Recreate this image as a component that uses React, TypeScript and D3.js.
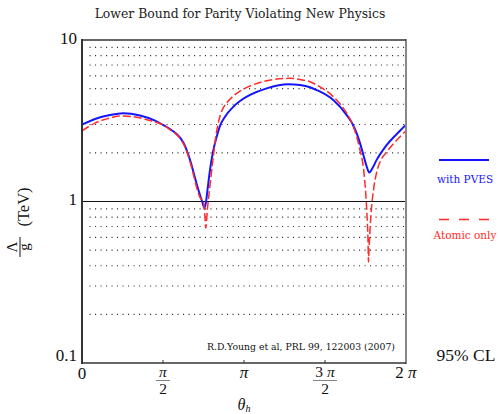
import React from "react";
import * as d3 from "d3";

// theta in units of pi, bound Lambda/g in TeV
const thetaBlue = [0, 0.0802, 0.1728, 0.2531, 0.358, 0.4506, 0.5, 0.5432, 0.5802, 0.6111, 0.6358, 0.6543, 0.6728, 0.6944, 0.713, 0.7284, 0.7407, 0.75, 0.7562, 0.7654, 0.7747, 0.7901, 0.8086, 0.8315, 0.8519, 0.8827, 0.934, 0.9753, 1.037, 1.14, 1.2716, 1.3457, 1.4074, 1.4488, 1.5512, 1.634, 1.6667, 1.6957, 1.716, 1.7364, 1.7562, 1.7735, 1.79, 1.819, 1.8815, 1.963, 2.0];
const lambdaBlue = [2.99, 3.24, 3.43, 3.52, 3.41, 3.17, 2.98, 2.81, 2.64, 2.44, 2.21, 1.97, 1.73, 1.44, 1.23, 1.097, 1.007, 0.938, 0.911, 0.993, 1.18, 1.57, 2.03, 2.52, 2.94, 3.35, 3.86, 4.19, 4.57, 5.02, 5.32, 5.26, 5.1, 4.9, 4.25, 3.43, 3.06, 2.64, 2.3, 1.95, 1.66, 1.51, 1.59, 1.81, 2.24, 2.74, 2.99];

const thetaRed = [0, 0.0802, 0.1728, 0.2346, 0.3272, 0.4198, 0.5, 0.5432, 0.5802, 0.6111, 0.6358, 0.6543, 0.6728, 0.6914, 0.7099, 0.7284, 0.7488, 0.758, 0.7636, 0.7747, 0.787, 0.7994, 0.8117, 0.8272, 0.8457, 0.8642, 0.8951, 0.934, 0.9753, 1.037, 1.14, 1.284, 1.3457, 1.4074, 1.4488, 1.5512, 1.634, 1.6667, 1.6957, 1.716, 1.7364, 1.7512, 1.7593, 1.7654, 1.7685, 1.7716, 1.7778, 1.787, 1.7994, 1.819, 1.8457, 1.8815, 1.963, 2.0];
const lambdaRed = [2.74, 3.06, 3.29, 3.38, 3.34, 3.17, 2.98, 2.79, 2.62, 2.42, 2.18, 1.94, 1.68, 1.42, 1.2, 1.06, 0.997, 0.825, 0.685, 0.911, 1.18, 1.52, 1.94, 2.58, 3.2, 3.66, 4.1, 4.5, 4.83, 5.19, 5.6, 5.79, 5.69, 5.52, 5.26, 4.46, 3.52, 3.06, 2.52, 2.08, 1.64, 1.13, 0.825, 0.578, 0.422, 0.501, 0.666, 0.911, 1.18, 1.52, 1.81, 2.03, 2.52, 2.74];

const yTickValues = [10, 1, 0.1];
const yTickLabels = ["10", "1", "0.1"];
const gridValues = [0.2, 0.3, 0.4, 0.5, 0.6, 0.7, 0.8, 0.9, 2, 3, 4, 5, 6, 7, 8, 9];
const xTickValues = [0, 0.5, 1, 1.5, 2];

const titleText = "Lower Bound for Parity Violating New Physics";
const citation = "R.D.Young et al, PRL 99, 122003 (2007)";
const legendLabels = ["with PVES", "Atomic only"];

const L = 82, R = 406, T = 40, B = 363;

export default function App() {
  const x = d3.scaleLinear().domain([0, 2]).range([L, R]);
  const y = d3.scaleLog().domain([0.1, 10]).range([B, T]);
  const line = d3
    .line<[number, number]>()
    .x((d) => x(d[0]))
    .y((d) => y(d[1]))
    .curve(d3.curveMonotoneX);
  const blueD = line(thetaBlue.map((t, i) => [t, lambdaBlue[i]]) as [number, number][]) || "";
  const redD = line(thetaRed.map((t, i) => [t, lambdaRed[i]]) as [number, number][]) || "";

  const serif = "'DejaVu Serif', serif";
  const times = "'Liberation Serif', 'Times New Roman', serif";

  return (
    <svg width={500} height={414} style={{ position: "absolute", left: 0, top: 0, background: "#fff" }}>
      <defs>
        <clipPath id="plot">
          <rect x={L} y={T} width={R - L} height={B - T} />
        </clipPath>
      </defs>
      <text x={240} y={18} textAnchor="middle" fontFamily={serif} fontSize={12.4} fill="#222">
        {titleText}
      </text>

      {gridValues.map((v) => (
        <line key={v} x1={L + 7.5} x2={R} y1={y(v)} y2={y(v)} stroke="#333" strokeWidth={1.1} strokeDasharray="1.1,4.4" />
      ))}
      <line x1={L} x2={R} y1={y(1)} y2={y(1)} stroke="#111" strokeWidth={1.2} />

      <g clipPath="url(#plot)" fill="none">
        <path d={blueD} stroke="#1414ff" strokeWidth={2} />
        <path d={redD} stroke="#ff2a2a" strokeWidth={1.5} strokeDasharray="8,3" />
      </g>

      <line x1={L} x2={L} y1={T - 1} y2={B + 1} stroke="#333" strokeWidth={2} />
      <line x1={R} x2={R} y1={T - 1} y2={B + 1} stroke="#888" strokeWidth={2} />
      <line x1={L} x2={R} y1={T} y2={T} stroke="#333" strokeWidth={1.5} />
      <line x1={L} x2={R} y1={B} y2={B} stroke="#333" strokeWidth={1.5} />

      {xTickValues.slice(1, 4).map((v) => (
        <line key={v} x1={x(v)} x2={x(v)} y1={B} y2={B - 3} stroke="#333" strokeWidth={1} />
      ))}

      {yTickValues.map((v, i) => (
        <text key={v} x={L - 5} y={Math.min(y(v) + 3.5, B - 2.5)} textAnchor="end" fontFamily={times} fontSize={17} fill="#111">
          {yTickLabels[i]}
        </text>
      ))}

      <g fontFamily={times} fontSize={17} fill="#111" textAnchor="middle">
        <text x={x(0)} y={379}>0</text>
        <text x={x(0.5)} y={376.5} fontStyle="italic" fontSize={15.5}>π</text>
        <line x1={x(0.5) - 7} x2={x(0.5) + 7} y1={380.5} y2={380.5} stroke="#666" strokeWidth={0.8} />
        <text x={x(0.5)} y={394} fontSize={15.5}>2</text>
        <text x={x(1)} y={378} fontStyle="italic">π</text>
        <text x={x(1.5)} y={376.5} fontSize={15.5}>3 <tspan fontStyle="italic">π</tspan></text>
        <line x1={x(1.5) - 12} x2={x(1.5) + 12} y1={380.5} y2={380.5} stroke="#666" strokeWidth={0.8} />
        <text x={x(1.5)} y={394} fontSize={15.5}>2</text>
        <text x={x(2)} y={378}>2 <tspan fontStyle="italic">π</tspan></text>
        <text x={244} y={410} fontStyle="italic" fontSize={16}>
          θ<tspan fontSize={10} dy={2}>h</tspan>
        </text>
      </g>

      <g transform="translate(20,247) rotate(-90)" fontFamily={times} fill="#111">
        <text x={0} y={-3} textAnchor="middle" fontSize={15}>Λ</text>
        <line x1={-10} x2={10} y1={0} y2={0} stroke="#111" strokeWidth={1} />
        <text x={0} y={9} textAnchor="middle" fontSize={15}>g</text>
        <text x={40} y={9} textAnchor="middle" fontSize={16.5}>(TeV)</text>
      </g>

      <text x={395} y={349.5} textAnchor="end" fontFamily={serif} fontSize={9.3} fill="#111">
        {citation}
      </text>
      <text x={466} y={360.5} textAnchor="middle" fontFamily={times} fontSize={17.5} fill="#111">
        95% CL
      </text>

      <line x1={439} x2={489} y1={160} y2={160} stroke="#1414ff" strokeWidth={2} />
      <text x={465} y={183} textAnchor="middle" fontFamily={serif} fontSize={10.5} fill="#1414ff">
        {legendLabels[0]}
      </text>
      <line x1={439} x2={489} y1={219.5} y2={219.5} stroke="#ff2a2a" strokeWidth={1.5} strokeDasharray="10,10" />
      <text x={465} y={239} textAnchor="middle" fontFamily={serif} fontSize={10.5} fill="#ff2a2a">
        {legendLabels[1]}
      </text>
    </svg>
  );
}
